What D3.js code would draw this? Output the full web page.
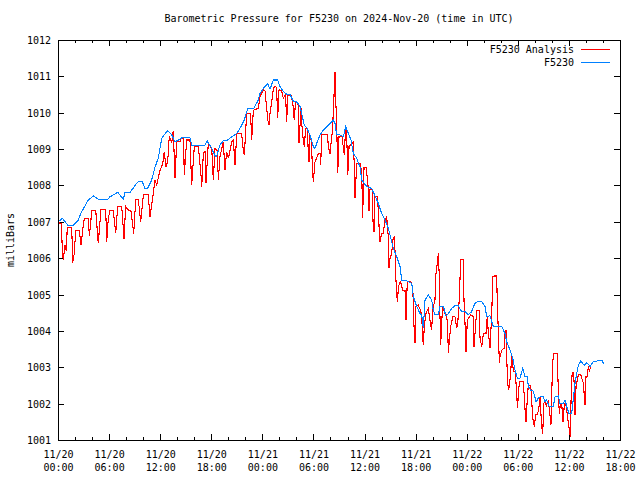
<!DOCTYPE html>
<html><head><meta charset="utf-8">
<script src="https://cdn.jsdelivr.net/npm/d3@7"></script>
<style>
body{margin:0;background:#fff}
text{font-family:"DejaVu Sans Mono",monospace;font-size:10px;fill:#000}
</style>
</head><body><svg id="c" width="640" height="480"></svg>
<script>
const titleText = "Barometric Pressure for F5230 on 2024-Nov-20 (time in UTC)";
const yLabelText = "milliBars";
const seriesNames = ["F5230 Analysis", "F5230"];
const seriesColors = ["#ff0000", "#0080ff"];
const startTime = "2024-11-20T00:00:00Z";
const endTime = "2024-11-22T18:00:00Z";
const yTicks = [1001,1002,1003,1004,1005,1006,1007,1008,1009,1010,1011,1012];
const majorTickHours = [0,6,12,18,24,30,36,42,48,54,60,66];
const minorTickHours = [2,4,8,10,14,16,20,22,26,28,32,34,38,40,44,46,50,52,56,58,62,64];
// [hours since start, millibars]
const analysis = [[0.04,1006.98],[0.41,1006.95],[0.50,1006.22],[0.62,1005.95],[0.82,1006.36],[0.97,1006.20],[1.09,1006.85],[1.61,1006.85],[1.73,1005.88],[1.91,1006.13],[2.08,1006.75],[2.50,1006.75],[2.70,1006.36],[2.82,1006.60],[2.97,1006.91],[3.09,1007.10],[3.56,1007.10],[3.68,1006.61],[3.82,1006.90],[3.96,1007.32],[4.43,1007.32],[4.73,1006.41],[5.05,1007.34],[5.60,1007.34],[5.72,1006.45],[5.91,1007.10],[6.11,1007.31],[6.49,1007.31],[6.78,1006.68],[7.01,1007.43],[7.48,1007.43],[7.75,1006.54],[7.95,1007.42],[8.34,1007.30],[8.57,1007.30],[8.89,1006.68],[9.13,1007.62],[9.43,1007.62],[9.71,1007.00],[10.02,1007.74],[10.60,1007.74],[10.80,1007.14],[11.19,1007.78],[11.39,1008.15],[11.59,1008.01],[11.98,1008.42],[12.18,1008.52],[12.37,1008.70],[12.48,1008.93],[12.68,1008.52],[12.88,1008.65],[13.07,1009.36],[13.35,1009.16],[13.54,1009.51],[13.74,1008.20],[13.94,1009.20],[14.33,1009.20],[14.44,1009.30],[14.74,1009.30],[14.83,1008.29],[15.11,1009.25],[15.50,1009.25],[15.70,1008.01],[16.01,1009.08],[16.48,1009.08],[16.79,1008.29],[16.88,1007.97],[17.07,1008.88],[17.26,1008.95],[17.38,1008.06],[17.65,1009.16],[18.05,1009.02],[18.24,1008.15],[18.44,1009.02],[18.71,1008.95],[18.83,1008.15],[19.02,1008.79],[19.41,1009.20],[19.61,1008.42],[19.81,1008.93],[20.02,1008.75],[20.40,1009.20],[20.59,1009.25],[20.79,1008.56],[20.99,1009.43],[21.57,1009.43],[21.76,1008.97],[21.88,1008.84],[22.16,1009.98],[22.61,1009.98],[22.75,1009.25],[22.94,1010.07],[23.52,1010.12],[23.72,1010.44],[24.11,1010.63],[24.31,1010.60],[24.51,1010.12],[24.63,1009.80],[24.78,1009.66],[24.90,1009.98],[25.10,1010.30],[25.29,1010.67],[25.49,1010.72],[25.67,1010.70],[25.80,1009.85],[25.96,1010.63],[26.27,1010.60],[26.46,1010.40],[26.72,1010.50],[26.86,1009.75],[26.98,1010.49],[27.36,1010.47],[27.56,1010.30],[27.75,1009.80],[27.89,1010.30],[28.03,1010.30],[28.22,1010.21],[28.30,1009.16],[28.54,1010.12],[28.69,1009.48],[28.92,1009.07],[29.09,1009.57],[29.30,1009.57],[29.39,1008.88],[29.48,1008.65],[29.59,1009.39],[29.77,1009.20],[29.86,1008.56],[29.98,1008.10],[30.18,1008.65],[30.38,1008.75],[30.57,1008.88],[30.77,1008.88],[30.85,1008.56],[30.97,1009.39],[31.67,1009.39],[31.74,1009.07],[31.94,1008.88],[32.21,1009.48],[32.38,1010.21],[32.45,1010.76],[32.53,1011.11],[32.61,1010.40],[32.73,1009.66],[32.85,1008.33],[33.00,1009.34],[33.35,1009.34],[33.62,1008.84],[33.79,1009.62],[33.91,1009.34],[34.03,1008.29],[34.18,1009.07],[34.68,1009.20],[34.80,1008.52],[34.88,1007.65],[35.08,1008.61],[35.47,1008.61],[35.67,1008.38],[35.77,1007.10],[35.94,1008.50],[36.18,1008.50],[36.41,1008.00],[36.53,1007.30],[36.64,1007.90],[36.88,1007.90],[37.00,1007.00],[37.11,1006.73],[37.23,1007.70],[37.46,1007.70],[37.64,1007.30],[37.73,1006.68],[37.81,1006.45],[38.01,1006.68],[38.20,1006.68],[38.40,1007.05],[38.60,1007.14],[38.79,1006.59],[38.87,1005.72],[38.99,1006.00],[39.19,1006.13],[39.31,1006.50],[39.52,1006.59],[39.69,1005.40],[39.85,1004.80],[39.96,1005.12],[40.08,1005.31],[40.24,1005.35],[40.48,1005.12],[40.75,1005.12],[40.87,1004.30],[41.02,1005.35],[41.42,1005.35],[41.66,1005.22],[41.81,1004.12],[41.93,1003.66],[42.04,1004.67],[42.31,1004.71],[42.51,1004.60],[42.71,1004.44],[42.82,1003.84],[42.90,1003.61],[43.02,1004.12],[43.21,1004.48],[43.49,1004.62],[43.68,1004.30],[43.88,1004.02],[44.00,1004.57],[44.27,1004.85],[44.39,1005.58],[44.54,1005.86],[44.66,1006.13],[44.78,1005.49],[44.86,1004.39],[44.94,1003.61],[45.06,1004.25],[45.18,1004.67],[45.45,1004.48],[45.65,1004.44],[45.77,1004.02],[45.84,1003.38],[45.96,1003.75],[46.12,1004.12],[46.36,1004.39],[46.62,1004.39],[46.82,1004.07],[46.97,1004.30],[47.12,1004.85],[47.29,1005.95],[47.41,1005.97],[47.60,1005.97],[47.68,1004.85],[47.80,1004.20],[47.92,1003.43],[48.07,1004.30],[48.47,1004.44],[48.74,1004.40],[48.86,1003.57],[49.03,1004.10],[49.17,1004.57],[49.48,1004.57],[49.56,1003.80],[49.76,1003.57],[49.95,1003.93],[50.26,1003.93],[50.41,1004.39],[50.53,1003.98],[50.73,1003.52],[50.81,1003.93],[50.93,1004.35],[51.05,1005.49],[51.20,1005.51],[51.52,1005.51],[51.59,1004.76],[51.71,1004.00],[51.83,1003.11],[51.91,1003.29],[52.11,1003.47],[52.38,1003.52],[52.50,1003.93],[52.61,1004.02],[52.77,1002.74],[52.89,1002.37],[53.00,1002.47],[53.17,1002.88],[53.29,1003.34],[53.48,1002.88],[53.68,1002.90],[53.88,1002.28],[53.94,1001.87],[54.06,1002.20],[54.18,1002.61],[54.65,1002.61],[54.84,1001.87],[54.96,1001.50],[55.08,1002.00],[55.23,1002.51],[55.51,1002.51],[55.63,1002.10],[55.75,1001.60],[55.94,1001.37],[56.10,1001.69],[56.31,1001.69],[56.49,1001.92],[56.60,1002.19],[56.80,1001.37],[56.92,1001.18],[57.07,1002.01],[57.19,1002.05],[57.36,1001.95],[57.58,1002.10],[57.77,1001.69],[57.89,1001.41],[58.05,1002.83],[58.17,1003.38],[58.64,1003.38],[58.75,1002.37],[58.87,1001.73],[59.01,1002.00],[59.15,1002.01],[59.30,1001.50],[59.48,1002.00],[59.66,1001.95],[59.81,1001.69],[60.05,1001.27],[60.17,1001.09],[60.25,1002.10],[60.37,1002.79],[60.52,1002.88],[60.64,1002.50],[60.72,1001.69],[60.84,1002.47],[61.11,1002.79],[61.39,1002.79],[61.70,1002.56],[61.89,1001.96],[62.01,1002.74],[62.17,1002.74],[62.28,1003.02],[62.40,1002.88],[62.56,1003.02]];
const station = [[0.04,1007.00],[0.50,1007.10],[1.14,1006.91],[1.80,1006.91],[2.38,1007.05],[2.78,1007.28],[3.56,1007.60],[4.15,1007.71],[4.73,1007.62],[5.84,1007.62],[6.11,1007.69],[7.01,1007.81],[7.67,1007.62],[7.87,1007.81],[8.46,1007.81],[9.24,1008.06],[9.43,1008.10],[9.90,1008.10],[10.22,1007.92],[10.53,1007.92],[11.00,1008.15],[11.39,1008.50],[11.78,1008.75],[12.18,1009.30],[12.88,1009.51],[13.35,1009.39],[13.74,1009.20],[14.13,1009.25],[14.53,1009.31],[15.50,1009.31],[15.70,1009.11],[17.26,1009.11],[17.53,1009.22],[18.05,1009.02],[18.44,1008.81],[18.64,1008.81],[19.02,1009.11],[19.41,1009.23],[19.81,1009.23],[20.40,1009.34],[20.99,1009.43],[21.49,1009.62],[21.88,1009.80],[22.28,1010.12],[22.98,1010.12],[23.52,1010.35],[23.72,1010.53],[24.11,1010.67],[24.63,1010.79],[24.90,1010.65],[25.29,1010.90],[25.80,1010.90],[26.07,1010.72],[26.46,1010.58],[26.86,1010.51],[27.24,1010.51],[27.63,1010.32],[28.03,1010.30],[28.42,1010.17],[28.62,1009.98],[28.92,1009.66],[29.21,1009.59],[29.59,1009.39],[29.98,1009.07],[30.18,1009.02],[30.38,1009.16],[30.77,1009.39],[31.16,1009.52],[31.56,1009.62],[31.94,1009.71],[32.33,1009.80],[32.53,1009.71],[32.73,1009.39],[33.12,1009.39],[33.51,1009.34],[33.79,1009.62],[34.09,1009.43],[34.41,1009.25],[34.68,1008.88],[35.08,1008.75],[35.47,1008.50],[35.67,1008.15],[36.25,1007.97],[36.84,1007.92],[37.62,1007.51],[38.01,1007.23],[38.40,1007.05],[38.79,1006.82],[39.38,1006.27],[39.78,1006.04],[40.16,1005.77],[40.36,1005.40],[40.95,1005.38],[41.54,1005.31],[41.73,1004.94],[42.13,1004.67],[42.51,1004.48],[42.71,1004.44],[42.90,1004.07],[43.10,1004.85],[43.49,1004.99],[43.89,1004.85],[44.07,1004.57],[44.27,1004.44],[44.66,1004.44],[44.86,1004.67],[45.25,1004.68],[45.57,1004.41],[45.84,1004.48],[46.24,1004.62],[46.62,1004.69],[47.01,1004.69],[47.41,1004.53],[47.80,1004.53],[48.18,1004.44],[48.58,1004.53],[48.97,1004.76],[49.36,1004.82],[49.76,1004.80],[50.15,1004.67],[50.34,1004.39],[50.73,1004.42],[51.12,1004.12],[52.11,1004.12],[52.50,1003.93],[52.70,1003.70],[53.08,1003.47],[53.40,1003.25],[53.67,1002.92],[53.94,1002.70],[54.26,1002.70],[54.57,1002.97],[54.84,1002.74],[55.11,1002.74],[55.23,1002.47],[55.51,1002.37],[55.75,1002.37],[55.94,1002.24],[56.14,1002.05],[56.41,1002.15],[56.69,1002.19],[57.00,1002.19],[57.19,1002.05],[57.39,1002.10],[57.70,1001.92],[58.17,1001.92],[58.37,1002.19],[58.75,1002.21],[58.95,1002.01],[59.34,1002.01],[59.54,1002.10],[59.81,1001.87],[60.01,1001.73],[60.33,1001.73],[60.52,1002.15],[60.72,1002.56],[60.92,1002.83],[61.11,1003.06],[61.39,1003.17],[61.62,1003.10],[61.81,1003.06],[62.09,1003.13],[62.28,1003.08],[62.48,1003.02],[62.68,1003.10],[62.87,1003.15],[63.66,1003.19],[63.93,1003.19],[64.05,1003.10]];

const W = 640, H = 480;
const m = {left: 58, right: 620, top: 40, bottom: 440};
const t0 = new Date(startTime), t1 = new Date(endTime);
const hrs = h => new Date(t0.getTime() + h * 3600e3);
const x = d3.scaleUtc().domain([t0, t1]).range([m.left, m.right]);
const y = d3.scaleLinear().domain([1001, 1012]).range([m.bottom, m.top]);
const svg = d3.select("#c");
svg.append("rect").attr("width", W).attr("height", H).attr("fill", "#fff");

const fmtDate = d3.utcFormat("%m/%d"), fmtTime = d3.utcFormat("%H:%M");
const majorDates = majorTickHours.map(hrs), minorDates = minorTickHours.map(hrs);

// bottom axis major
const gB = svg.append("g").attr("transform", `translate(0,${m.bottom})`)
  .call(d3.axisBottom(x).tickValues(majorDates).tickSizeInner(-6).tickSizeOuter(0).tickPadding(0).tickFormat(""));
gB.selectAll(".tick").each(function(d){
  const t = d3.select(this).append("text").attr("text-anchor","middle").attr("fill","#000");
  t.append("tspan").attr("x",0).attr("y",18).text(fmtDate(d));
  t.append("tspan").attr("x",0).attr("y",31).text(fmtTime(d));
});
svg.append("g").attr("transform", `translate(0,${m.bottom})`)
  .call(d3.axisBottom(x).tickValues(minorDates).tickSizeInner(-3).tickSizeOuter(0).tickFormat(""));
// top axis mirrored
svg.append("g").attr("transform", `translate(0,${m.top})`)
  .call(d3.axisTop(x).tickValues(majorDates).tickSizeInner(-6).tickSizeOuter(0).tickFormat(""));
svg.append("g").attr("transform", `translate(0,${m.top})`)
  .call(d3.axisTop(x).tickValues(minorDates).tickSizeInner(-3).tickSizeOuter(0).tickFormat(""));
// left axis
const gL = svg.append("g").attr("transform", `translate(${m.left},0)`)
  .call(d3.axisLeft(y).tickValues(yTicks).tickSizeInner(-6).tickSizeOuter(0).tickPadding(7).tickFormat(d3.format("d")));
gL.selectAll("text").attr("x", -7).attr("dy", "0.35em");
svg.append("g").attr("transform", `translate(${m.right},0)`)
  .call(d3.axisRight(y).tickValues(yTicks).tickSizeInner(-6).tickSizeOuter(0).tickFormat(""));
svg.selectAll(".domain").remove();
svg.selectAll(".tick line").attr("stroke","#000").attr("shape-rendering","crispEdges");
svg.selectAll(".tick text").style("font-family",'"DejaVu Sans Mono",monospace').style("font-size","10px");

svg.append("defs").append("clipPath").attr("id","clip").append("rect")
  .attr("x", m.left).attr("y", m.top).attr("width", m.right - m.left).attr("height", m.bottom - m.top);

const line = d3.line().x(d => x(hrs(d[0]))).y(d => y(d[1]));
const plot = svg.append("g").attr("clip-path","url(#clip)");
[analysis, station].forEach((s, i) => {
  plot.append("path").datum(s).attr("d", line).attr("fill","none")
    .attr("stroke", seriesColors[i]).attr("stroke-width", 1.1)
    .attr("stroke-linejoin","miter").attr("shape-rendering","crispEdges");
});

// frame
svg.append("rect").attr("x", m.left + 0.5).attr("y", m.top + 0.5)
  .attr("width", m.right - m.left).attr("height", m.bottom - m.top)
  .attr("fill","none").attr("stroke","#000").attr("stroke-width",1);

// title
svg.append("text").attr("x", (m.left + m.right) / 2).attr("y", 22).attr("text-anchor","middle").text(titleText);
// y label
svg.append("text").attr("transform", `translate(14,${(m.top + m.bottom) / 2}) rotate(-90)`)
  .attr("text-anchor","middle").text(yLabelText);

// legend
const legRows = [49, 62];
seriesNames.forEach((n, i) => {
  svg.append("text").attr("x", 574).attr("y", legRows[i] + 3.5).attr("text-anchor","end").text(n);
  svg.append("line").attr("x1", 581).attr("x2", 610).attr("y1", legRows[i] + 0.5).attr("y2", legRows[i] + 0.5)
    .attr("stroke", seriesColors[i]).attr("stroke-width", 1);
});
</script>
</body></html>
